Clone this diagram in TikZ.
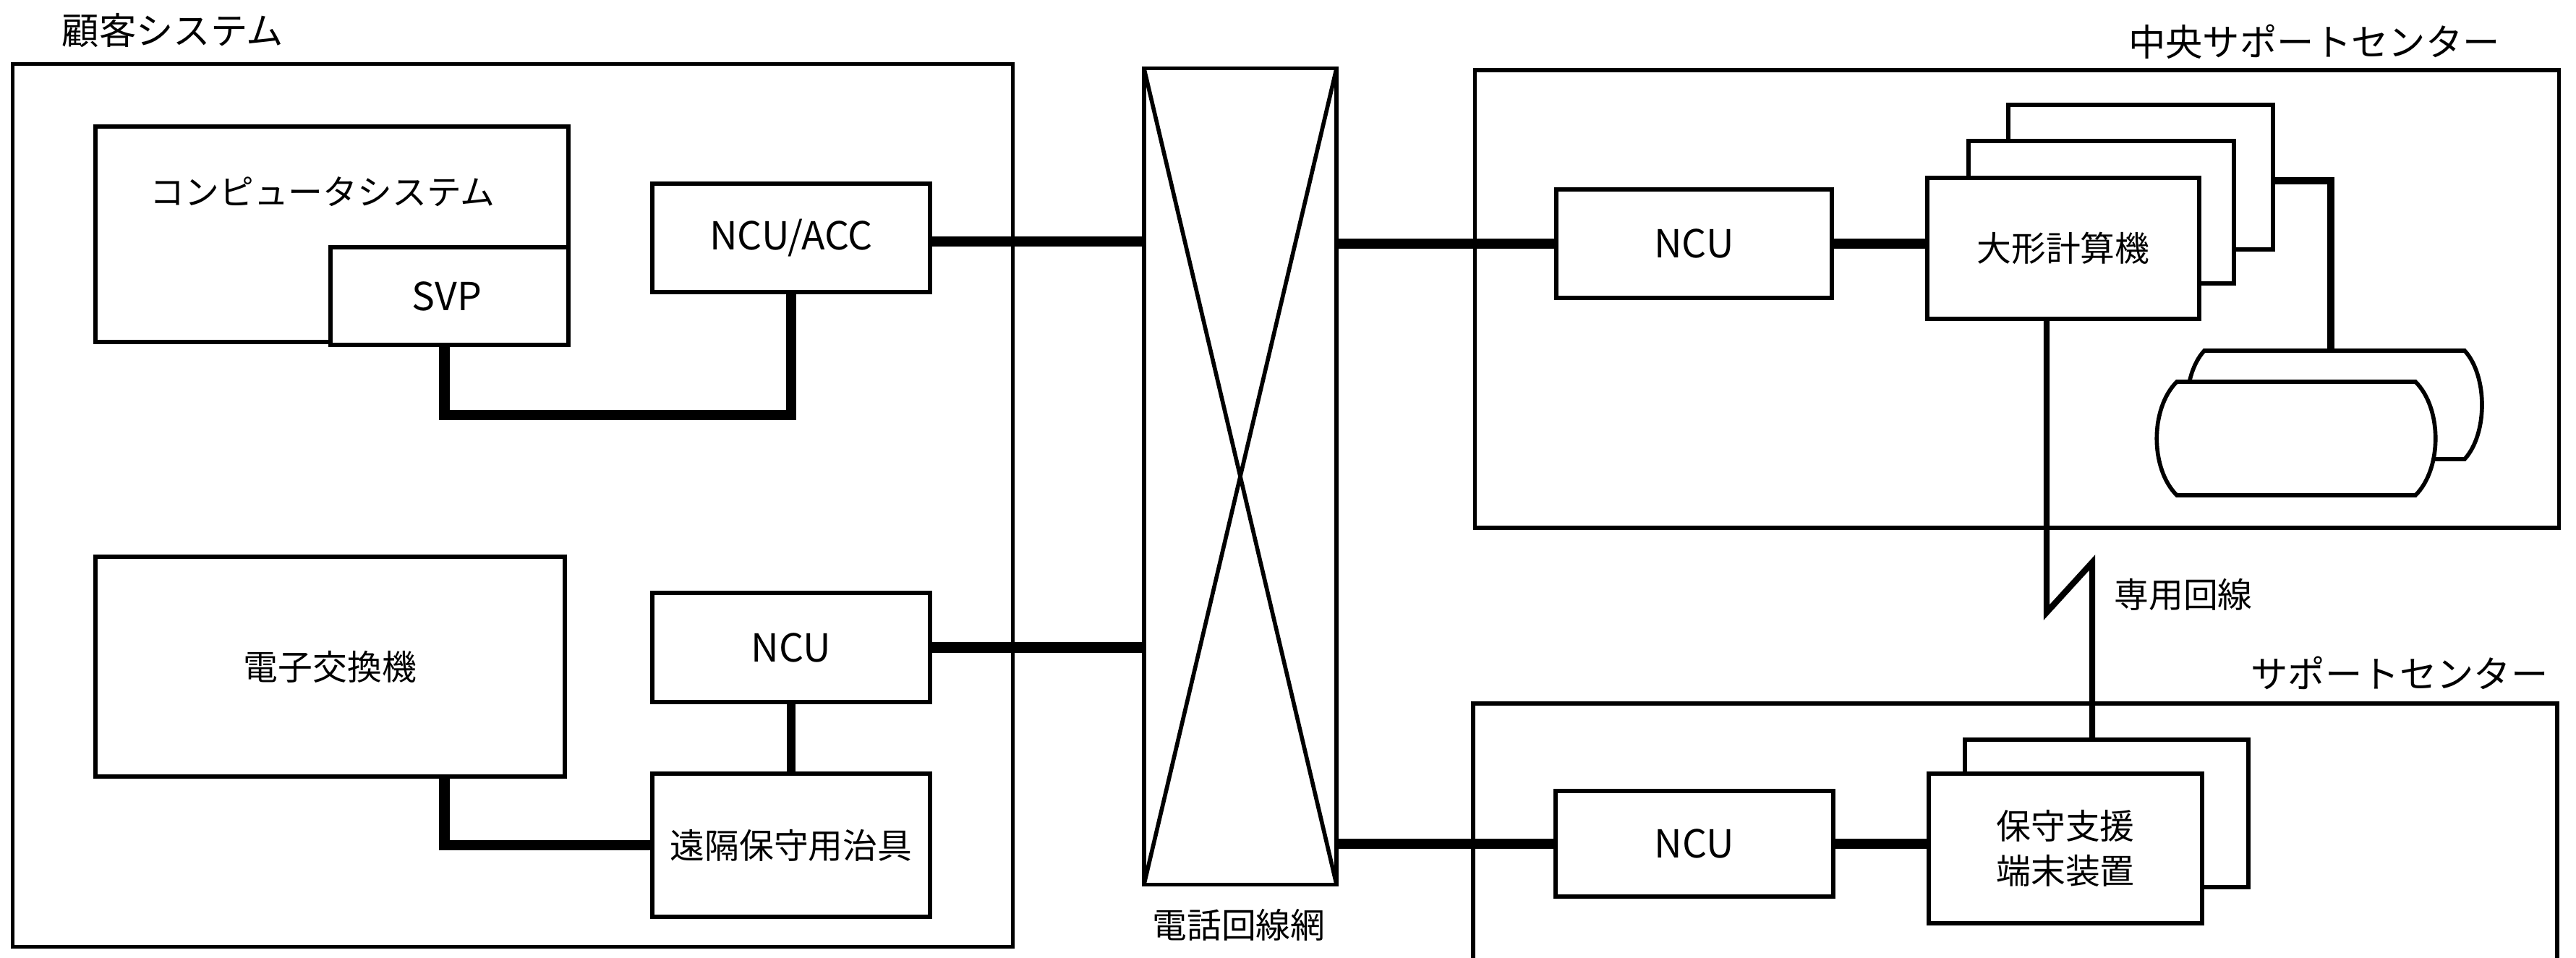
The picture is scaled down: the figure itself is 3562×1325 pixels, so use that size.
\documentclass[tikz,border=0pt]{standalone}
\usepackage{fontspec}
\setmainfont{Noto Sans CJK JP}
\usetikzlibrary{calc}
\tikzset{
  box/.style={draw, line width=1.6pt, fill=white, inner sep=0pt, outer sep=0pt, anchor=center},
  jp/.style={inner sep=0pt, font=\fontsize{13.6}{17.6}\selectfont, align=center},
  lat/.style={inner sep=0pt, font=\fontsize{15.2}{18}\selectfont},
  ttl/.style={inner sep=0pt, font=\fontsize{14.6}{18}\selectfont},
  heavy/.style={line width=4.2pt, line join=miter},
  medium/.style={line width=2.4pt, line join=miter},
  thin/.style={line width=1.6pt},
}
\begin{document}
\begin{tikzpicture}[x=0.01cm,y=-0.01cm]
\useasboundingbox (0,0) rectangle (3562,1325);
\fill[white] (0,0) rectangle (3562,1325);

% ---------- customer system ----------
\node[ttl] (tcust) at (239,42) {顧客システム};
\node[box, minimum width=13.82cm, minimum height=12.2cm] (cust) at (709,699) {};

\node[box, minimum width=6.54cm, minimum height=2.98cm] (comp) at (459,324) {};
\node[jp] (tcomp) at (446,265) {コンピュータシステム};
\node[box, minimum width=3.29cm, minimum height=1.35cm] (svp) at (621.5,409.5) {};
\node[lat] (tsvp) at (618,410) {SVP};
\node[box, minimum width=3.84cm, minimum height=1.5cm, lat] (ncuacc) at (1094,329) {NCU/ACC};

\node[box, minimum width=6.49cm, minimum height=3.04cm, jp] (pbx) at (456.5,922) {電子交換機};
\node[box, minimum width=3.84cm, minimum height=1.51cm, lat] (ncul) at (1094,895.5) {NCU};
\node[box, minimum width=3.84cm, minimum height=1.98cm, jp] (jig) at (1094,1169) {遠隔保守用治具};

\draw[heavy] ([xshift=-0.07cm]svp.south) -- ++(0,97) -| (ncuacc.south);
\draw[heavy] ([xshift=-0.07cm]pbx.south -| svp.south) |- (jig.west);
\draw[line width=3.6pt] (ncul.south) -- (jig.north);

% ---------- telephone network ----------
\node[box, minimum width=2.66cm, minimum height=11.28cm] (tel) at (1715,659) {};
\draw[thin] (tel.north west) -- (tel.south east);
\draw[thin] (tel.north east) -- (tel.south west);
\node[jp] (ttel) at (1713,1279) {電話回線網};

\draw[heavy] ([yshift=-0.05cm]ncuacc.east) -- ([yshift=-0.05cm]ncuacc.east -| tel.west);
\draw[heavy] (ncul.east) -- (ncul.east -| tel.west);

% ---------- central support center ----------
\node[ttl] (tcen) at (3200,58) {中央サポートセンター};
\node[box, fill=none, minimum width=14.98cm, minimum height=6.33cm] (cen) at (2789,413.5) {};

\node[box, minimum width=3.81cm, minimum height=1.5cm, lat] (ncuc) at (2342.5,337) {NCU};
\node[box, minimum width=3.66cm, minimum height=2.0cm] (host3) at (2960,245) {};
\node[box, minimum width=3.67cm, minimum height=1.97cm] (host2) at (2905.5,293.5) {};
\node[box, minimum width=3.76cm, minimum height=1.95cm, jp] (host1) at (2853,343.5) {大形計算機};

\coordinate (d2top) at (3223,485);
\draw[line width=2.8pt, line join=miter] ([yshift=-0.05cm]host3.east) -| (d2top);

% disks
\draw[thin, fill=white] (3048,485) -- (3408,485) .. controls (3440,520) and (3440,600) .. (3408,635)
  -- (3048,635) .. controls (3016,600) and (3016,520) .. cycle;
\draw[thin, fill=white] (3010,528) -- (3340,528) .. controls (3377,565) and (3377,648) .. (3340,685)
  -- (3010,685) .. controls (2973,648) and (2973,565) .. cycle;

\draw[heavy] (tel.east |- ncuc.west) -- (ncuc.west);
\draw[heavy] (ncuc.east) -- (ncuc.east -| host1.west);

% ---------- support center ----------
\node[ttl] (tsup) at (3318,931) {サポートセンター};
\draw[thin] (2037,1330) -- (2037,973) -- (3536,973) -- (3536,1330);

\node[box, minimum width=3.84cm, minimum height=1.46cm, lat] (ncus) at (2343,1167) {NCU};
\node[box, minimum width=3.92cm, minimum height=2.04cm] (term2) at (2913,1125) {};
\node[box, minimum width=3.78cm, minimum height=2.07cm, jp] (term1) at (2856,1173.5) {保守支援\\端末装置};

\draw[heavy] (tel.east |- ncus.west) -- (ncus.west);
\draw[heavy] (ncus.east) -- (ncus.east -| term1.west);

% dedicated line
\coordinate (zz1) at (2830,847);
\coordinate (zz2) at (2893,778);
\draw[medium] ([xshift=-0.23cm]host1.south) -- (zz1) -- (zz2) -- (zz2 |- term2.north);
\node[jp] (tded) at (3019,822) {専用回線};

\end{tikzpicture}
\end{document}
